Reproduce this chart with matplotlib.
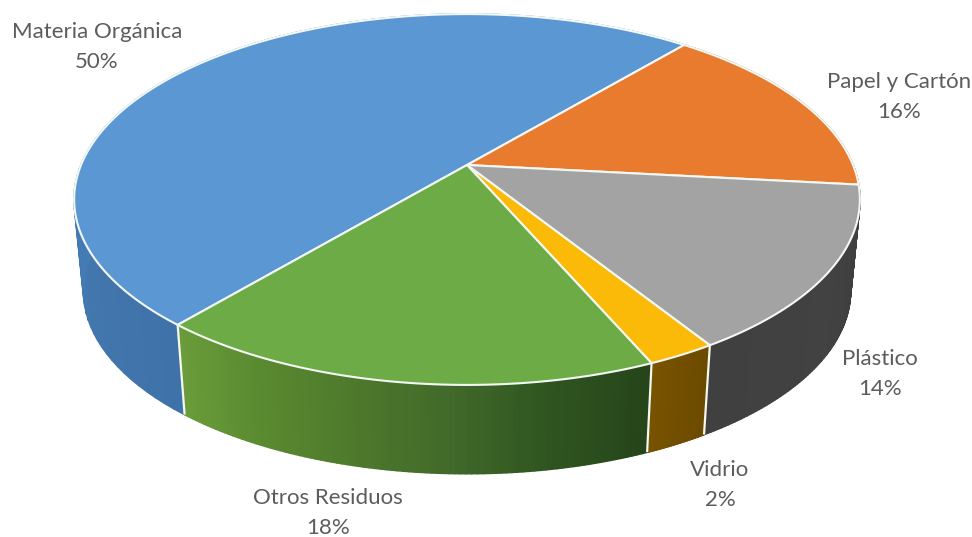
import numpy as np
import matplotlib
matplotlib.use("Agg")
import matplotlib.pyplot as plt
from matplotlib.collections import PolyCollection
from matplotlib.colors import LinearSegmentedColormap
from matplotlib.patches import Polygon

# === Data ===
categories = ["Materia Orgánica", "Papel y Cartón", "Plástico", "Vidrio", "Otros Residuos"]
# shares, labels show them rounded
values = [50, 15.6, 14.4, 2.4, 17.6]

# === Styles ===
top_colors = ["#5B98D3", "#E97B2E", "#A3A3A3", "#FBBA07", "#6CAB45"]
wall_colors = [
    ["#3F72A8", "#4A84BD", "#4F8CC6"],
    ["#A8581F", "#A8581F"],
    ["#3C3C3C", "#424242", "#404040"],
    ["#6B4A00", "#785300"],
    ["#26451A", "#2F5420", "#41692A", "#4E7A2C", "#5A8A30", "#6A9C3A"],
]
label_pos = [(97, 47), (899, 97), (880, 374), (720, 485), (328, 513)]
text_color = "#5C5C5C"

# === Projection of the tilted disc to pixels ===
cx, cy = 467, 165
persp = 0.186
sy, sx = 179, 386
wall_y, wall_scale = 257, 0.976
start_angle = 220


def top_xy(theta):
    t = np.radians(theta)
    X, Y = np.sin(t), -np.cos(t)
    w = 1 - persp * Y
    return cx + sx * X / w, cy + sy * Y / w


def bottom_xy(theta):
    x, y = top_xy(theta)
    return cx + (x - cx) * wall_scale, wall_y + (y - cy) * 0.985


fig = plt.figure(figsize=(9.72, 5.37), dpi=100)
ax = fig.add_axes([0, 0, 1, 1])
ax.set_xlim(0, 972)
ax.set_ylim(537, 0)
ax.axis("off")
plt.rcParams["font.family"] = ["Lato", "DejaVu Sans"]

# slice boundaries, clockwise from the start angle
edges = start_angle + np.cumsum([0] + values) * 3.6

# === Side walls ===
for i in range(len(values)):
    th = np.linspace(edges[i], edges[i + 1], 90)
    xt, yt = top_xy(th)
    xb, yb = bottom_xy(th)
    quads = [
        [(xt[j], yt[j]), (xt[j + 1], yt[j + 1]), (xb[j + 1], yb[j + 1]), (xb[j], yb[j])]
        for j in range(len(th) - 1)
    ]
    cmap = LinearSegmentedColormap.from_list("wall", wall_colors[i])
    cols = cmap(np.linspace(0, 1, len(quads)))
    ax.add_collection(PolyCollection(quads, facecolors=cols, edgecolors=cols, linewidths=1.3, zorder=2))

# seams on the front of the wall only
for e in edges[:-1]:
    th = e % 360
    if 120 < th < 240:
        xt, yt = top_xy(th)
        xb, yb = bottom_xy(th)
        ax.plot([xt, xb], [yt, yb], color="#F4F8EE", lw=1.6, zorder=3, solid_capstyle="butt")

# === Top faces ===
for i in range(len(values)):
    th = np.linspace(edges[i], edges[i + 1], 200)
    xt, yt = top_xy(th)
    pts = np.column_stack([np.r_[cx, xt], np.r_[cy, yt]])
    ax.add_patch(Polygon(pts, closed=True, facecolor=top_colors[i], edgecolor="#F4F8F4", lw=1.5, joinstyle="round", zorder=4))

# === Labels ===
for name, val, (lx, ly) in zip(categories, values, label_pos):
    ax.text(lx, ly, f"{name}\n{val:.0f}%", ha="center", va="center", fontsize=16,
            color=text_color, linespacing=1.62, family=["Lato", "DejaVu Sans"], zorder=5)

fig.savefig("out.png", dpi=100)
